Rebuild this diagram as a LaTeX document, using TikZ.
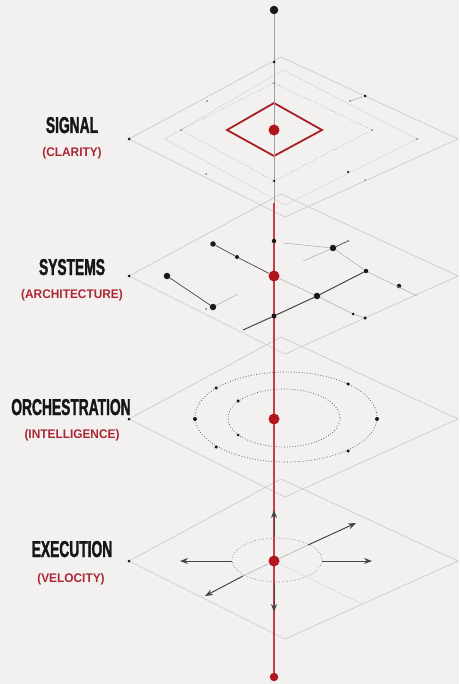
\documentclass[tikz,border=0pt]{standalone}
\usepackage{fontspec}
\setmainfont{Liberation Sans}
\newfontfamily\titlefont[FakeStretch=0.6,BoldFeatures={FakeBold=1.4}]{Liberation Sans}
\newfontfamily\subfont[FakeStretch=0.95]{Liberation Sans}
\usetikzlibrary{arrows.meta}
\definecolor{bg}{RGB}{243,241,240}
\definecolor{planec}{RGB}{198,198,198}
\definecolor{lightc}{RGB}{214,214,214}
\definecolor{dotc}{RGB}{25,25,25}
\definecolor{grayd}{RGB}{130,130,130}
\definecolor{redline}{RGB}{200,62,72}
\definecolor{reddot}{RGB}{178,22,28}
\definecolor{reddia}{RGB}{170,30,35}
\definecolor{subred}{RGB}{170,40,52}
\definecolor{titlec}{RGB}{22,22,22}
\definecolor{netc}{RGB}{70,70,70}
\begin{document}
\begin{tikzpicture}[x=1pt,y=-1pt,
  plane/.style={draw=planec,line width=0.6pt},
  lightplane/.style={draw=lightc,line width=0.5pt},
  dotplane/.style={draw=grayd,line width=0.5pt,dotted},
  bd/.style={circle,fill=dotc,inner sep=0pt,minimum size=#1pt},
  bd/.default=3,
  gd/.style={circle,fill=grayd,inner sep=0pt,minimum size=#1pt},
  gd/.default=2,
  rd/.style={circle,fill=reddot,inner sep=0pt,minimum size=11pt},
  net/.style={draw=netc,line width=0.7pt},
  lnet/.style={draw=lightc!80!black,line width=0.5pt},
  orbit/.style={draw=netc,line width=0.7pt,dotted},
  arr/.style={draw=netc,line width=1pt,-{Stealth[length=8pt,width=6pt]}},
  title/.style={font=\titlefont\bfseries\fontsize{23}{23}\selectfont,text=titlec,anchor=base},
  sub/.style={font=\subfont\bfseries\fontsize{12.5}{12.5}\selectfont,text=subred,anchor=base}]
\fill[bg] (0,0) rectangle (459,684);
\useasboundingbox (0,0) rectangle (459,684);

% ---------- planes ----------
\foreach \c in {139,276,419,561}{
  \draw[plane] (129,\c) -- (281,\c-82) -- (458,\c) -- (285,\c+78) -- cycle;
}
% layer 1 nested diamonds
\draw[lightplane] (165,139) -- (283,70) -- (417,139) -- (285,205) -- cycle;
\draw[dotplane] (181,130) -- (274,83) -- (372,130) -- (274,181) -- cycle;
\draw[reddia,line width=1.8pt,line join=miter] (227,130) -- (274,103) -- (322,130) -- (274,156) -- cycle;

% ---------- vertical axis ----------
\node[bd=8.5] (top) at (274,10) {};
\coordinate (redstart) at (274,203);
\node[circle,fill=reddot,inner sep=0pt,minimum size=8.5pt] (bottom) at (274,677) {};
\draw[planec!80!black,line width=0.8pt] (top) -- (redstart);
\draw[redline,line width=1.8pt] (redstart) -- (bottom);

% ---------- layer 1 details ----------
\node[bd=3] (p1l) at (129,139) {};
\node[bd=3] (a1) at (274,62) {};
\node[gd] (a2) at (274,83) {};
\node[bd=2.5] (a3) at (274,181) {};
\node[gd] (e1) at (207,101) {};
\node[gd] (e2) at (181,130) {};
\node[gd] (e3) at (206,174) {};
\node[bd=3] (e4) at (365,96) {};
\node[gd] (e5) at (350,101) {};
\node[gd] (e6) at (372,130) {};
\node[gd] (e7) at (417,139) {};
\node[bd=2.5] (e8) at (348,172) {};
\node[gd] (e9) at (365,180) {};
\draw[lnet] (e5) -- (e4);
\node[rd] (c1) at (274,130) {};

% ---------- layer 2 network ----------
\node[bd=3] (p2l) at (129,276) {};
\node[bd=6.5] (s2a) at (167,276) {};
\node[bd=5.5] (s2b) at (213,244) {};
\node[bd=4] (s2c) at (237,257) {};
\node[bd=6.5] (s2d) at (213,307) {};
\node[gd=2] (s2dd) at (206,309) {};
\coordinate (s2dx) at (238,294);
\node[bd=4.5] (s2e) at (274,241) {};
\node[bd=5] (s2f) at (274,316) {};
\coordinate (s2g) at (243,330);
\node[bd=6.5] (s2h) at (333,248) {};
\node[gd=2.5] (s2i) at (348,241) {};
\node[bd=4.5] (s2j) at (366,271) {};
\node[bd=4.5] (s2k) at (399,286) {};
\node[bd=6.5] (s2l) at (317,296) {};
\node[bd=3] (s2m) at (353,314) {};
\node[bd=3.5] (s2n) at (365,318) {};
\coordinate (s2hx) at (303,261);
\coordinate (s2ex) at (283,243);
\coordinate (s2jx) at (417,296);
\node[rd] (c2) at (274,276) {};
\draw[net] (s2b) -- (s2c) -- (c2);
\draw[net] (s2a) -- (s2d);
\draw[lnet] (s2d) -- (s2dx);
\draw[net,line width=1pt] (s2f) -- (s2g);
\draw[net,line width=1pt] (s2f) -- (s2l) -- (s2j);
\draw[lnet] (c2) -- (s2l);
\draw[lnet] (s2l) -- (s2m) -- (s2n);
\draw[net] (s2h) -- (s2i);
\draw[lnet] (s2h) -- (s2hx);
\draw[lnet] (s2ex) -- (s2h);
\draw[lnet] (s2h) -- (s2j);
\draw[lnet] (s2j) -- (s2jx);

% ---------- layer 3 orbits ----------
\node[bd=3] (p3l) at (129,419) {};
\draw[orbit] (286,417) ellipse [x radius=91,y radius=45];
\draw[orbit] (284,418) ellipse [x radius=56,y radius=29];
\node[bd=4] (o1) at (195,419) {};
\node[bd=4] (o2) at (377,419) {};
\node[bd=3.5] (o3) at (216,388) {};
\node[bd=3.5] (o4) at (348,384) {};
\node[bd=3.5] (o5) at (216,447) {};
\node[bd=3.5] (o6) at (348,451) {};
\node[bd=3.5] (o7) at (238,401) {};
\node[bd=3] (o8) at (238,435) {};
\node[rd] (c3) at (274,419) {};

% ---------- layer 4 arrows ----------
\node[bd=3] (p4l) at (129,561) {};
\draw[orbit,draw=grayd] (277,560) ellipse [x radius=45,y radius=22];
\coordinate (x1) at (232,561); \coordinate (x1e) at (180,561);
\coordinate (x2) at (322,561); \coordinate (x2e) at (372,561);
\coordinate (x3) at (274,537); \coordinate (x3e) at (274,510);
\coordinate (x4) at (274,583); \coordinate (x4e) at (274,612);
\coordinate (x5) at (308,545); \coordinate (x5e) at (356,523);
\coordinate (x6) at (243,576); \coordinate (x6e) at (205,596);
\coordinate (x7e) at (362,604);
\node[rd] (c4) at (274,561) {};
\draw[lnet] (c4) -- (x5);
\draw[lnet] (c4) -- (x6);
\draw[lightplane] (c4) -- (x7e);
\draw[arr] (x1) -- (x1e);
\draw[arr] (x2) -- (x2e);
\draw[arr] (x3) -- (x3e);
\draw[arr] (x4) -- (x4e);
\draw[arr] (x5) -- (x5e);
\draw[arr] (x6) -- (x6e);

% ---------- labels ----------
\node[title] (t1) at (72,133) {SIGNAL};
\node[sub] (u1) at (72,157) {(CLARITY)};
\node[title] (t2) at (72,275) {SYSTEMS};
\node[sub] (u2) at (72,298) {(ARCHITECTURE)};
\node[title] (t3) at (71,415) {ORCHESTRATION};
\node[sub] (u3) at (72,438) {(INTELLIGENCE)};
\node[title] (t4) at (72,557) {EXECUTION};
\node[sub] (u4) at (71,582) {(VELOCITY)};
\end{tikzpicture}
\end{document}
